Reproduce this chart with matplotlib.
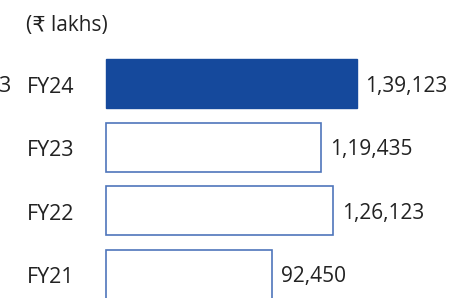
import matplotlib
matplotlib.use('Agg')
import matplotlib.pyplot as plt

years = ['FY24', 'FY23', 'FY22', 'FY21']
values = [139123, 119435, 126123, 92450]
valueLabels = ['1,39,123', '1,19,435', '1,26,123', '92,450']
unitLabel = '(₹ lakhs)'

W, H = 449, 298
fig = plt.figure(figsize=(W / 100, H / 100), dpi=100)
ax = fig.add_axes([0, 0, 1, 1])

plt.rcParams['font.family'] = ['Open Sans', 'DejaVu Sans']
textColor = '#222222'
blue = '#15499C'
edge = '#4F76BB'

# pixel layout -> data limits
x0 = 106
pxPerUnit = 250.5 / 139123
ax.set_xlim(-x0 / pxPerUnit, (W - x0) / pxPerUnit)
yTop, step = 83.7, 63.5
ax.set_ylim((H - yTop) / step, -yTop / step)
ax.axis('off')

for i, (yr, v, lab) in enumerate(zip(years, values, valueLabels)):
    if i == 0:
        ax.barh(i, v, height=0.77, color=blue, edgecolor=blue, linewidth=1)
    else:
        ax.barh(i, v, height=0.77, color='white', edgecolor=edge, linewidth=1.2)
    ax.annotate(lab, (v, i), xytext=(6.5, -1.8), textcoords='offset points',
                ha='left', va='center', fontsize=15, color=textColor)
    ax.annotate(yr, (-x0 / pxPerUnit, i), xytext=(19, -2.5), textcoords='offset points',
                ha='left', va='center', fontsize=15.5, color=textColor)

fig.text(26 / W, 1 - 25 / H, unitLabel, ha='left', va='center', fontsize=15, color=textColor)
fig.text(10 / W, 1 - 87 / H, '3', ha='right', va='center', fontsize=15.5, color=textColor)

plt.savefig('out.png', dpi=100)
plt.close()
